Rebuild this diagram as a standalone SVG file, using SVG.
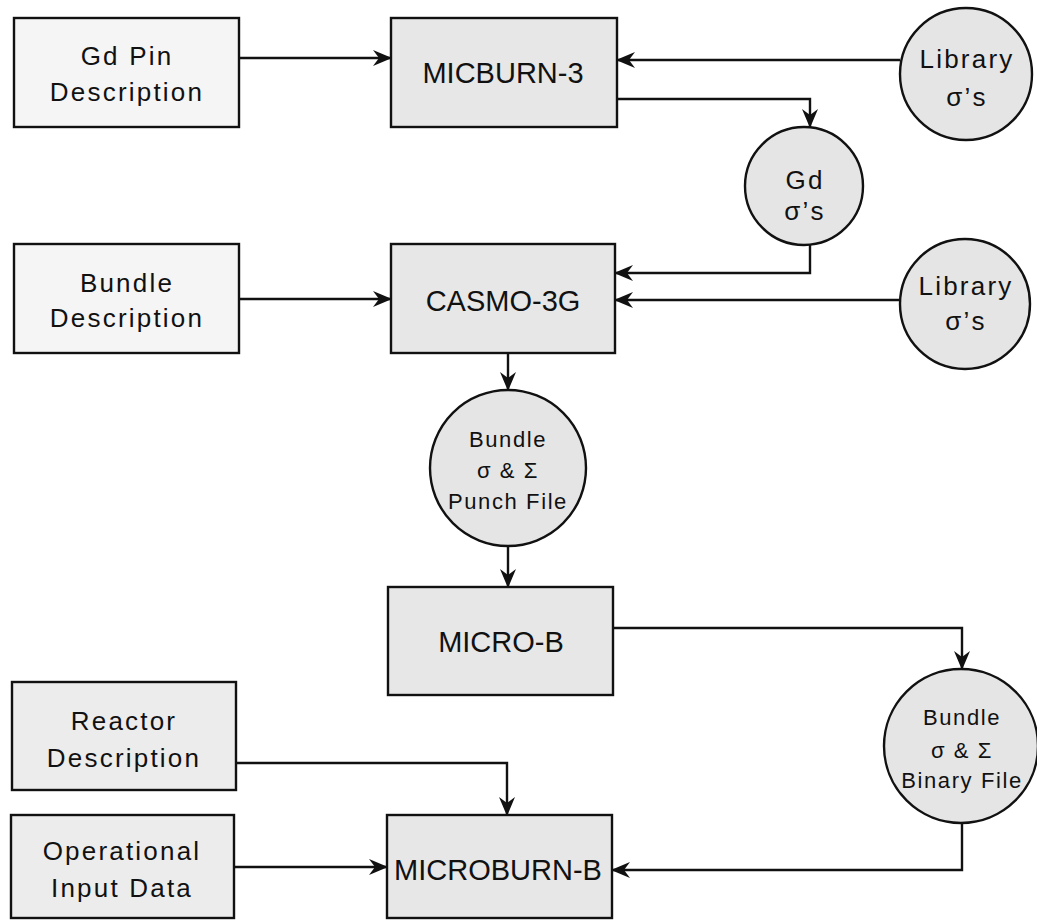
<svg xmlns="http://www.w3.org/2000/svg" width="1037" height="920" viewBox="0 0 1037 920">
<style>
.box{stroke:#111;stroke-width:2.4}
.prog{fill:#e7e7e7}
.inp{fill:#f5f5f5}
.inp2{fill:#ececec}
.circ{fill:#e5e5e5;stroke:#111;stroke-width:2.4}
text{font-family:"Liberation Sans",Arial,sans-serif;fill:#111;text-anchor:middle}
.pt{font-size:29px}
.dt{font-size:26px;letter-spacing:2.2px}
.ct{font-size:22px;letter-spacing:1.6px}
.conn{fill:none;stroke:#111;stroke-width:2.4}
</style>
<defs>
<marker id="ah" markerWidth="19" markerHeight="16" refX="18" refY="8" orient="auto" markerUnits="userSpaceOnUse">
<path d="M0,0 L19,8 L0,16 L6,8 Z" fill="#111"/>
</marker>
</defs>
<rect width="1037" height="920" fill="#fff"/>

<g id="gdpin"><rect class="box inp" x="14" y="18" width="225" height="109"/><text class="dt" x="127" y="65">Gd Pin</text><text class="dt" x="127" y="101">Description</text></g>
<g id="micburn3"><rect class="box prog" x="391" y="18" width="226" height="109"/><text class="pt" x="503" y="83">MICBURN-3</text></g>
<g id="library1"><circle class="circ" cx="966" cy="74" r="66"/><text class="dt" x="967" y="68">Library</text><text class="dt" x="967" y="106">σ’s</text></g>
<g id="gdsigma"><circle class="circ" cx="804" cy="186" r="59"/><text class="dt" x="805" y="189">Gd</text><text class="dt" x="805" y="220">σ’s</text></g>
<g id="bundledesc"><rect class="box inp" x="14" y="244" width="225" height="109"/><text class="dt" x="127" y="292">Bundle</text><text class="dt" x="127" y="327">Description</text></g>
<g id="casmo3g"><rect class="box prog" x="391" y="244" width="224" height="109"/><text class="pt" x="503" y="311">CASMO-3G</text></g>
<g id="library2"><circle class="circ" cx="965" cy="304" r="65"/><text class="dt" x="966" y="295">Library</text><text class="dt" x="966" y="330">σ’s</text></g>
<g id="punch"><circle class="circ" cx="508" cy="468" r="78"/><text class="ct" x="508" y="447">Bundle</text><text class="ct" x="508" y="478">σ &amp; Σ</text><text class="ct" x="508" y="509">Punch File</text></g>
<g id="microb"><rect class="box prog" x="388" y="587" width="225" height="108"/><text class="pt" x="501" y="652">MICRO-B</text></g>
<g id="binary"><circle class="circ" cx="961" cy="746" r="77"/><text class="ct" x="962" y="725">Bundle</text><text class="ct" x="962" y="758">σ &amp; Σ</text><text class="ct" x="962" y="788">Binary File</text></g>
<g id="reactor"><rect class="box inp2" x="12" y="682" width="224" height="108"/><text class="dt" x="124" y="730">Reactor</text><text class="dt" x="124" y="767">Description</text></g>
<g id="operational"><rect class="box inp2" x="11" y="815" width="223" height="103"/><text class="dt" x="122" y="860">Operational</text><text class="dt" x="122" y="897">Input Data</text></g>
<g id="microburnb"><rect class="box prog" x="387" y="815" width="225" height="103"/><text class="pt" x="498" y="880">MICROBURN-B</text></g>

<g id="connectors">
<path class="conn" d="M239,58 H391" marker-end="url(#ah)"/>
<path class="conn" d="M900,60 H617" marker-end="url(#ah)"/>
<path class="conn" d="M617,99 H810 V127" marker-end="url(#ah)"/>
<path class="conn" d="M810,245 V273 H615" marker-end="url(#ah)"/>
<path class="conn" d="M239,299 H391" marker-end="url(#ah)"/>
<path class="conn" d="M899,300 H615" marker-end="url(#ah)"/>
<path class="conn" d="M508,353 V390" marker-end="url(#ah)"/>
<path class="conn" d="M508,546 V587" marker-end="url(#ah)"/>
<path class="conn" d="M613,628 H962 V669" marker-end="url(#ah)"/>
<path class="conn" d="M962,823 V870 H612" marker-end="url(#ah)"/>
<path class="conn" d="M236,763 H507 V815" marker-end="url(#ah)"/>
<path class="conn" d="M234,867 H387" marker-end="url(#ah)"/>
</g>
</svg>
